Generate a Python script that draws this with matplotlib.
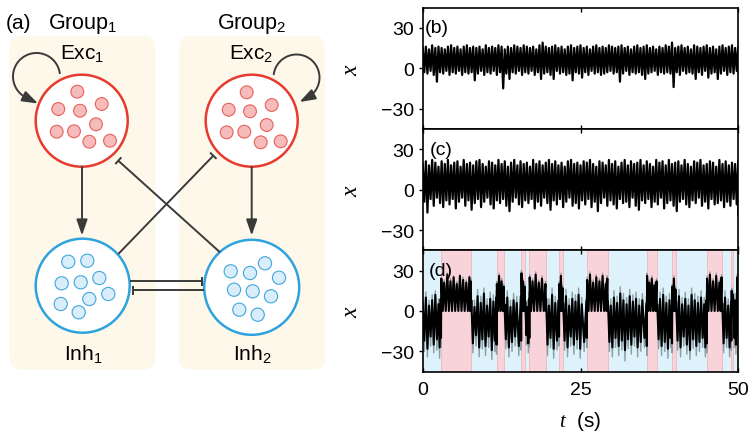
import numpy as np
import matplotlib
matplotlib.use("Agg")
import matplotlib.pyplot as plt
from matplotlib.patches import Circle, FancyBboxPatch, FancyArrowPatch
from matplotlib.path import Path

plt.rcParams['font.family'] = ['Liberation Sans', 'DejaVu Sans']
plt.rcParams['mathtext.fontset'] = 'custom'
plt.rcParams['mathtext.rm'] = 'Liberation Sans'
plt.rcParams['mathtext.it'] = 'Liberation Serif:italic'
plt.rcParams['mathtext.bf'] = 'Liberation Sans:bold'

# ---------------------------------------------------------------- data
group_names = ['Group$_1$', 'Group$_2$']
exc_names = ['Exc$_1$', 'Exc$_2$']
inh_names = ['Inh$_1$', 'Inh$_2$']
panel_tags = ['(b)', '(c)', '(d)']

# sample times of traces (b) and (c), seconds
t_bc = np.arange(0, 50.01, 0.5)

# (b): upper / lower excursions of x around each sample
b_hi = [15, 16, 14, 17, 15, 16, 15, 14, 16, 17,
        15, 16, 14, 16, 17, 15, 16, 15, 16, 14,
        17, 15, 16, 15, 17, 16, 14, 16, 15, 17,
        16, 15, 17, 16, 15, 16, 14, 17, 19, 16,
        15, 16, 17, 15, 16, 14, 16, 17, 15, 16,
        17, 15, 16, 14, 16, 17, 15, 16, 15, 17,
        16, 15, 16, 17, 15, 16, 14, 16, 17, 15,
        16, 17, 15, 16, 14, 16, 15, 17, 16, 19,
        15, 16, 17, 15, 16, 14, 17, 16, 15, 16,
        17, 15, 16, 14, 16, 17, 15, 16, 17, 15,
        16]
b_lo = [-3, -4, -2, -5, -10, -3, -4, -2, -5, -3,
        -4, -2, -5, -3, -4, -3, -9, -4, -2, -5,
        -3, -4, -2, -5, -3, -15, -4, -8, -3, -4,
        -2, -5, -3, -4, -2, -5, -3, -8, -4, -3,
        -5, -8, -2, -4, -3, -5, -4, -9, -3, -4,
        -7, -3, -5, -2, -4, -3, -5, -4, -3, -2,
        -4, -3, -10, -4, -2, -5, -3, -4, -3, -5,
        -8, -4, -3, -2, -5, -3, -4, -3, -4, -14,
        -3, -5, -2, -4, -3, -4, -8, -3, -5, -2,
        -7, -4, -3, -8, -4, -2, -5, -3, -4, -2,
        -3]

# (c)
c_hi = [19, 21, 18, 22, 20, 17, 21, 19, 22, 18,
        20, 21, 17, 22, 19, 20, 18, 21, 22, 19,
        17, 21, 20, 18, 22, 19, 21, 17, 20, 22,
        18, 21, 19, 20, 17, 22, 19, 21, 18, 20,
        22, 19, 21, 18, 20, 17, 21, 22, 19, 20,
        18, 21, 20, 22, 19, 17, 21, 20, 18, 22,
        19, 21, 17, 20, 22, 18, 21, 19, 20, 22,
        18, 21, 19, 17, 22, 20, 21, 18, 22, 19,
        20, 21, 18, 22, 19, 17, 21, 20, 22, 18,
        19, 21, 20, 17, 22, 19, 21, 18, 20, 19,
        21]
c_lo = [-9, -17, -7, -12, -6, -10, -13, -8, -11, -7,
        -14, -9, -6, -12, -8, -15, -10, -7, -13, -9,
        -6, -11, -14, -8, -10, -7, -12, -16, -9, -6,
        -11, -13, -8, -10, -7, -14, -9, -12, -6, -10,
        -15, -8, -11, -7, -13, -9, -6, -12, -10, -14,
        -8, -11, -7, -13, -9, -16, -10, -6, -12, -8,
        -11, -14, -7, -10, -9, -13, -6, -12, -15, -8,
        -10, -7, -13, -9, -11, -6, -14, -10, -8, -12,
        -16, -9, -7, -11, -13, -8, -10, -6, -12, -9,
        -14, -7, -11, -10, -8, -13, -9, -12, -7, -11,
        -19]

# (d): up-state intervals (s)
up_start = [2.9, 11.7, 15.6, 16.9, 21.6, 26.0, 35.5, 39.5, 45.0, 48.9]
up_end = [7.65, 12.9, 16.2, 19.5, 22.2, 29.3, 37.1, 40.1, 47.4, 49.2]

d_t = [0.0, 0.5, 1.0, 1.5, 2.0, 2.5, 2.85,
       2.95, 3.4, 3.9, 4.4, 4.9, 5.4, 5.9, 6.4, 6.9, 7.4, 7.6,
       7.7, 8.2, 8.7, 9.2, 9.7, 10.2, 10.7, 11.2, 11.65,
       11.75, 12.1, 12.5, 12.85,
       12.95, 13.4, 13.9, 14.4, 14.9, 15.55,
       15.65, 15.9, 16.15,
       16.25, 16.6, 16.85,
       16.95, 17.4, 17.9, 18.4, 18.9, 19.45,
       19.55, 20.0, 20.5, 21.0, 21.55,
       21.65, 21.9, 22.15,
       22.25, 22.7, 23.2, 23.7, 24.2, 24.7, 25.2, 25.95,
       26.05, 26.5, 27.0, 27.5, 28.0, 28.5, 29.0, 29.25,
       29.35, 29.8, 30.3, 30.8, 31.3, 31.8, 32.3, 32.8, 33.3, 33.8, 34.3, 34.8, 35.45,
       35.55, 35.9, 36.3, 36.7, 37.05,
       37.15, 37.6, 38.1, 38.6, 39.1, 39.45,
       39.55, 39.8, 40.05,
       40.15, 40.6, 41.1, 41.6, 42.1, 42.6, 43.1, 43.6, 44.1, 44.6, 44.95,
       45.05, 45.5, 46.0, 46.5, 47.0, 47.35,
       47.45, 47.9, 48.4, 48.85,
       48.95, 49.15,
       49.25, 49.5, 49.75,
       49.85, 50.0]
d_hi = [6, 10, 4, 8, 12, 5, 9,
        24, 21, 27, 22, 25, 20, 26, 23, 21, 25, 22,
        8, 3, 11, 6, 13, 4, 9, 7, 10,
        20, 26, 22, 18,
        5, 10, 3, 8, 6, 11,
        28, 22, 18,
        7, 3, 9,
        25, 22, 27, 21, 24, 20,
        9, 4, 12, 6, 8,
        20, 26, 17,
        6, 11, 4, 9, 7, 12, 5, 8,
        23, 27, 21, 25, 22, 26, 20, 24,
        7, 4, 10, 6, 13, 8, 5, 11, 7, 9, 4, 8, 6,
        26, 21, 24, 19, 22,
        5, 9, 12, 6, 8, 4,
        18, 24, 16,
        7, 11, 5, 9, 4, 12, 8, 6, 10, 5, 8,
        24, 27, 22, 26, 21, 25,
        6, 10, 4, 7,
        15, 12,
        5, 8, 3,
        25, 22]
d_lo = [-22, -28, -19, -25, -21, -27, -20,
        0, 0, 0, 0, 0, 0, 0, 0, 0, 0, 0,
        -24, -18, -27, -21, -26, -19, -29, -22, -25,
        0, 0, 0, 0,
        -21, -27, -23, -19, -26, -22,
        0, 0, 0,
        -18, -24, -20,
        0, 0, 0, 0, 0, 0,
        -25, -20, -28, -22, -19,
        0, 0, 0,
        -22, -27, -19, -25, -21, -28, -23, -20,
        0, 0, 0, 0, 0, 0, 0, 0,
        -23, -27, -20, -26, -22, -29, -21, -25, -19, -27, -23, -20, -26,
        0, 0, 0, 0, 0,
        -21, -26, -23, -28, -20, -24,
        0, 0, 0,
        -22, -27, -19, -25, -29, -21, -26, -23, -20, -27, -24,
        0, 0, 0, 0, 0, 0,
        -24, -20, -27, -22,
        0, 0,
        -20, -25, -18,
        0, 0]
# faint outer excursions of the same trace
d_hi_g = [10, 14, 8, 12, 15, 9, 13,
          25, 23, 28, 24, 26, 22, 27, 25, 23, 26, 24,
          13, 8, 16, 11, 17, 9, 14, 12, 15,
          22, 28, 24, 20,
          10, 15, 8, 13, 11, 16,
          30, 24, 20,
          12, 8, 14,
          27, 24, 29, 23, 26, 22,
          14, 9, 17, 11, 13,
          22, 28, 19,
          11, 16, 9, 14, 12, 17, 10, 13,
          25, 29, 23, 27, 24, 28, 22, 26,
          12, 9, 15, 11, 18, 13, 10, 16, 12, 14, 9, 13, 11,
          28, 23, 26, 21, 24,
          10, 14, 17, 11, 13, 9,
          20, 26, 18,
          12, 16, 10, 14, 9, 17, 13, 11, 15, 10, 13,
          26, 29, 24, 28, 23, 27,
          11, 15, 9, 12,
          17, 14,
          10, 13, 8,
          27, 24]
d_lo_g = [-30, -34, -26, -31, -29, -35, -27,
          0, 0, 0, 0, 0, 0, 0, 0, 0, 0, 0,
          -31, -26, -34, -28, -33, -27, -36, -30, -32,
          0, 0, 0, 0,
          -28, -34, -30, -26, -33, -29,
          0, 0, 0,
          -25, -31, -27,
          0, 0, 0, 0, 0, 0,
          -33, -27, -35, -29, -26,
          0, 0, 0,
          -29, -34, -26, -32, -28, -35, -30, -27,
          0, 0, 0, 0, 0, 0, 0, 0,
          -30, -34, -27, -33, -29, -37, -28, -32, -26, -34, -30, -27, -33,
          0, 0, 0, 0, 0,
          -28, -33, -30, -35, -27, -31,
          0, 0, 0,
          -29, -34, -26, -32, -36, -28, -33, -30, -27, -34, -31,
          0, 0, 0, 0, 0, 0,
          -31, -27, -34, -29,
          0, 0,
          -27, -32, -25,
          0, 0]

# ---------------------------------------------------------------- colours
LINE = '#3a3a3a'
RED = '#E63B2E'
RED_FILL = '#F6BBBB'
RED_EDGE = '#E7615B'
BLUE = '#2EA3DD'
BLUE_FILL = '#D9EEFA'
BLUE_EDGE = '#3FA7DE'
CREAM = '#FDF8EA'
PINK = '#F9D3DA'
SKY = '#DDF2FA'

fig = plt.figure(figsize=(7.48, 4.35), dpi=100)

# ================================================================ network sketch
dax = fig.add_axes([0, 0, 374 / 748, 1])
dax.set_xlim(0, 374)
dax.set_ylim(435, 0)
dax.axis('off')

for x0 in (9.5, 179):
    dax.add_patch(FancyBboxPatch((x0, 36.7), 146, 334,
                                 boxstyle='round,pad=0,rounding_size=13',
                                 fc=CREAM, ec='none', zorder=0))

exc_c = [(81.7, 121.7), (251.7, 121.7)]
inh_c = [(82.7, 286.7), (251.7, 288.3)]
for c in exc_c:
    dax.add_patch(Circle(c, 46, fc='white', ec=RED, lw=1.8, zorder=2))
for c, r in zip(inh_c, (47, 47.5)):
    dax.add_patch(Circle(c, r, fc='white', ec=BLUE, lw=1.8, zorder=2))

exc_dots = [[(77.3, 92.7), (58.3, 110), (80, 111.7), (101.7, 105), (56.7, 132.7),
             (74, 132.3), (96, 125.3), (89.3, 142.7), (110, 141.7)],
            [(246.7, 93.3), (228.7, 110.7), (250, 112.3), (271.7, 106), (226.7, 133.3),
             (244.3, 132.7), (266.7, 126), (260.7, 143.3), (280.7, 142.3)]]
inh_dots = [[(68.3, 262.7), (87.3, 261.7), (61.7, 284.3), (80.7, 283.3), (99.3, 279),
             (108.3, 295), (89.3, 300), (60.7, 305), (78.7, 313.3)],
            [(230.7, 272.3), (250, 274), (265, 264.3), (279, 278.7), (234, 290.7),
             (252.7, 292.3), (271, 297.3), (239.3, 310.7), (257.7, 315.7)]]
for grp in exc_dots:
    for p in grp:
        dax.add_patch(Circle(p, 6.4, fc=RED_FILL, ec=RED_EDGE, lw=0.8, zorder=3))
for grp in inh_dots:
    for p in grp:
        dax.add_patch(Circle(p, 6.6, fc=BLUE_FILL, ec=BLUE_EDGE, lw=0.8, zorder=3))

head = '-|>,head_length=0.95,head_width=0.33'
# excitatory projections Exc -> Inh
for x in (82.0, 251.7):
    dax.add_patch(FancyArrowPatch((x, 168), (x, 236.5), arrowstyle=head,
                                  mutation_scale=10, color=LINE, lw=1.4,
                                  shrinkA=0, shrinkB=0, zorder=4))


def self_loop(cx, cy, r, a0, a1, tip):
    ang = np.radians(np.linspace(a0, a1, 60))
    verts = np.column_stack([cx + r * np.cos(ang), cy - r * np.sin(ang)])
    verts = np.vstack([verts, tip])
    codes = [Path.MOVETO] + [Path.LINETO] * (len(verts) - 1)
    dax.add_patch(FancyArrowPatch(path=Path(verts, codes), arrowstyle=head,
                                  mutation_scale=10, color=LINE, lw=1.4, zorder=4))


self_loop(36.5, 77.5, 23.5, 8, 240, (38.0, 104.5))
self_loop(296.5, 78.5, 23.0, 172, -60, (299.5, 103.0))


def inhibit(p0, p1, half=4.5):
    p0 = np.array(p0, float)
    p1 = np.array(p1, float)
    d = (p1 - p0) / np.hypot(*(p1 - p0))
    n = np.array([-d[1], d[0]])
    dax.plot([p0[0], p1[0]], [p0[1], p1[1]], color=LINE, lw=1.4,
             solid_capstyle='butt', zorder=4)
    dax.plot([p1[0] - half * n[0], p1[0] + half * n[0]],
             [p1[1] - half * n[1], p1[1] + half * n[1]],
             color=LINE, lw=1.4, solid_capstyle='butt', zorder=4)


inhibit((118.3, 255.0), (213.3, 156.7))
inhibit((220.0, 253.3), (118.3, 161.7))
inhibit((130.0, 282.0), (201.7, 282.0))
inhibit((204.0, 291.0), (132.7, 291.0))

dax.text(6, 29, '(a)', fontsize=15, ha='left', va='baseline')
for x, s in zip((83, 252), group_names):
    dax.text(x, 29, s, fontsize=15.5, ha='center', va='baseline')
for x, s in zip((82, 251), exc_names):
    dax.text(x, 59, s, fontsize=15, ha='center', va='baseline')
for x, s in zip((83, 252), inh_names):
    dax.text(x, 360, s, fontsize=15, ha='center', va='baseline')

# ================================================================ time series
L, R = 422.7 / 748, 738.3 / 748
TOP, BOT = 1 - 8.5 / 435, 1 - 372.7 / 435
H = (TOP - BOT) / 3
axes = [fig.add_axes([L, TOP - (i + 1) * H, R - L, H]) for i in range(3)]


def zigzag(ax, t, hi, lo, **kw):
    t = np.asarray(t, float)
    nxt = np.append(t[1:], t[-1])
    xs = np.empty(2 * len(t))
    ys = np.empty(2 * len(t))
    xs[0::2] = t
    xs[1::2] = 0.5 * (t + nxt)
    ys[0::2] = hi
    ys[1::2] = lo
    ax.plot(xs, ys, **kw)


zigzag(axes[0], t_bc, b_hi, b_lo, color='black', lw=1.6, zorder=3)
zigzag(axes[1], t_bc, c_hi, c_lo, color='black', lw=1.6, zorder=3)

axd = axes[2]
axd.set_facecolor(SKY)
for a, b in zip(up_start, up_end):
    axd.axvspan(a, b, fc=PINK, ec='#F1B6C1', lw=0.6, zorder=1)
zigzag(axd, d_t, d_hi_g, d_lo_g, color='#8c9ea6', lw=1.0, zorder=2)
zigzag(axd, d_t, d_hi, d_lo, color='black', lw=1.5, zorder=3)

tag_x = [0.4, 1.1, 0.9]
for i, ax in enumerate(axes):
    ax.set_xlim(0, 50)
    ax.set_ylim(-45, 45)
    ax.set_yticks([-30, 0, 30])
    ax.set_xticks([0, 25, 50])
    ax.tick_params(axis='y', direction='out', length=3, width=1, labelsize=14, pad=3)
    ax.tick_params(axis='x', direction='in', length=3, width=1, top=True,
                   labelsize=14, pad=7)
    if i < 2:
        ax.tick_params(axis='x', labelbottom=False)
    for sp in ax.spines.values():
        sp.set_linewidth(1.2)
    ax.set_ylabel('$x$', fontsize=17, rotation=90)
    ax.yaxis.set_label_coords(-0.192, 0.5)
    ax.text(tag_x[i], 30, panel_tags[i], fontsize=14, ha='left', va='center', zorder=5)

fig.text(580.5 / 748, 1 - 422 / 435, '$t$  (s)', fontsize=15, ha='center', va='center')

fig.savefig('out.png', dpi=100)
